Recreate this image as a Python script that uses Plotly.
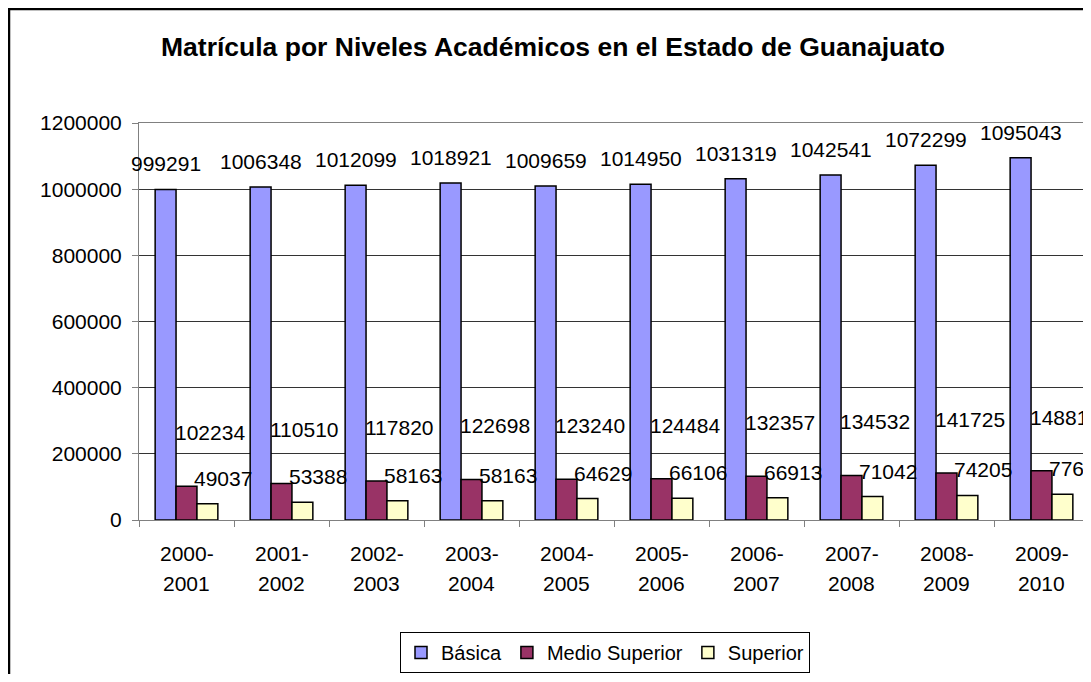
import plotly.graph_objects as go

periodos = ["2000-2001", "2001-2002", "2002-2003", "2003-2004", "2004-2005",
            "2005-2006", "2006-2007", "2007-2008", "2008-2009", "2009-2010"]
basica = [999291, 1006348, 1012099, 1018921, 1009659,
          1014950, 1031319, 1042541, 1072299, 1095043]
medio_superior = [102234, 110510, 117820, 122698, 123240,
                  124484, 132357, 134532, 141725, 148814]
superior = [49037, 53388, 58163, 58163, 64629,
            66106, 66913, 71042, 74205, 77643]

FONT = "Liberation Sans, Arial, sans-serif"
W, H = 1083, 666          # page body has an 8px margin
L, R, T, B = 131, 2, 115, 154
PW, PH = W - L - R, H - T - B


def px_x(p):
    return (p - L) / PW


def px_y(p):
    return (H - B - p) / PH


fig = go.Figure()
series = [("Básica", basica, "#9999FF"),
          ("Medio Superior", medio_superior, "#993366"),
          ("Superior", superior, "#FFFFCC")]
for name, vals, color in series:
    fig.add_trace(go.Bar(name=name, x=periodos, y=vals,
                         marker=dict(color=color, line=dict(color="black", width=1.5))))

# data labels, placed like the original (shifted per series)
shifts = {"Básica": (-21, 12), "Medio Superior": (23, 40), "Superior": (36, 12)}
annotations = []
for name, vals, _ in series:
    dx, dy = shifts[name]
    for p, v in zip(periodos, vals):
        annotations.append(dict(x=p, y=v, text=str(v), showarrow=False,
                                xshift=dx, yshift=dy, yanchor="bottom",
                                font=dict(family=FONT, size=21, color="black")))

# two-line category labels with the wider line spacing of the original
for p in periodos:
    a, b = p.split("-")
    for txt, sh in ((a + "-", -33), (b, -63)):
        annotations.append(dict(x=p, y=0, xref="x", yref="paper", text=txt,
                                showarrow=False, yanchor="middle", yshift=sh,
                                font=dict(family=FONT, size=21, color="black")))

fig.update_layout(
    width=W, height=H,
    margin=dict(l=L, r=R, t=T, b=B, autoexpand=False),
    paper_bgcolor="white", plot_bgcolor="white",
    barmode="group", bargap=0.34, bargroupgap=0,
    font=dict(family=FONT, size=21, color="black"),
    title=dict(text="<b>Matrícula por Niveles Académicos en el Estado de Guanajuato</b>",
               x=545 / W, xanchor="center", y=1 - 39 / H, yanchor="middle",
               font=dict(family=FONT, size=26.5, color="black")),
    legend=dict(orientation="h", x=px_x(597), xanchor="center", y=px_y(624), yanchor="top",
                bordercolor="black", borderwidth=1, itemwidth=30,
                font=dict(family=FONT, size=20, color="black")),
    annotations=annotations,
    showlegend=True,
)

fig.update_xaxes(type="category", range=[-0.5, len(periodos) - 0.5], showticklabels=False,
                 ticks="outside", tickson="boundaries", ticklen=6, tickcolor="#808080",
                 showline=True, linecolor="#808080", linewidth=1, automargin=False,
                 mirror=True, showgrid=False)
fig.update_yaxes(range=[0, 1200000], dtick=200000, tickformat="d", ticks="outside",
                 ticklen=6, tickcolor="#808080", showline=True, linecolor="#808080",
                 mirror=True, gridcolor="#333333", gridwidth=1, zeroline=False,
                 automargin=False, ticklabelstandoff=6, tickfont=dict(family=FONT, size=21))

# outer chart frame
fig.add_shape(type="rect", xref="paper", yref="paper", x0=px_x(1), x1=px_x(W + 20),
              y0=px_y(H + 20), y1=px_y(1), line=dict(color="black", width=2.5),
              fillcolor="rgba(0,0,0,0)")

fig.write_html("out.html")
